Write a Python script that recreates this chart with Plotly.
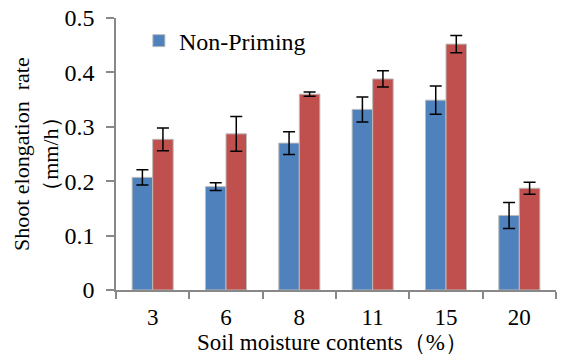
import plotly.graph_objects as go

categories = ["3", "6", "8", "11", "15", "20"]
non_priming = [0.207, 0.190, 0.270, 0.332, 0.349, 0.137]
non_priming_err = [0.014, 0.007, 0.021, 0.023, 0.026, 0.024]
priming = [0.277, 0.287, 0.360, 0.388, 0.452, 0.187]
priming_err = [0.021, 0.032, 0.004, 0.015, 0.016, 0.011]

FONT = "Liberation Serif, Times New Roman, serif"

fig = go.Figure()
fig.add_trace(go.Bar(
    x=categories, y=non_priming, name="Non-Priming",
    marker=dict(color="#4F81BD", line=dict(color="#BBBBBB", width=1)),
    error_y=dict(type="data", array=non_priming_err, color="black", thickness=1.5, width=6),
))
fig.add_trace(go.Bar(
    x=categories, y=priming, name="Priming", showlegend=False,
    marker=dict(color="#C0504D", line=dict(color="#BBBBBB", width=1)),
    error_y=dict(type="data", array=priming_err, color="black", thickness=1.5, width=6),
))

# the page body has an 8px default margin, so the figure is shifted up/left by 8px
fig.update_layout(
    width=565, height=354,
    margin=dict(l=108, r=17, t=10, b=72, autoexpand=False),
    paper_bgcolor="white", plot_bgcolor="white",
    barmode="group", bargap=0.44, bargroupgap=0,
    font=dict(family=FONT, size=22, color="black"),
    legend=dict(x=0.052, y=0.998, xanchor="left", yanchor="top",
                bgcolor="rgba(0,0,0,0)", font=dict(size=24)),
    xaxis=dict(
        type="category", range=[-0.5, 5.5], automargin=False,
        showline=True, linecolor="#888888", linewidth=1.5,
        ticks="outside", tickson="boundaries", ticklen=7, tickcolor="#888888", tickwidth=1.5,
        showgrid=False, tickfont=dict(size=23), ticklabelstandoff=6,
        ticklabeloverflow="allow",
    ),
    yaxis=dict(
        range=[0, 0.5], dtick=0.1, automargin=False,
        showline=True, linecolor="#888888", linewidth=1.5,
        ticks="outside", ticklen=8, tickcolor="#888888", tickwidth=1.5,
        showgrid=False, zeroline=False, tickfont=dict(size=24), ticklabelstandoff=7,
        ticklabeloverflow="allow",
    ),
    annotations=[
        dict(text="Soil moisture contents（%）", xref="paper", yref="paper",
             x=0.492, y=0, yshift=-52, xanchor="center", yanchor="middle",
             showarrow=False, font=dict(size=23)),
        dict(text="Shoot elongation  rate<br>（mm/h）", xref="paper", yref="paper",
             x=0, xshift=-80, y=0.5, xanchor="center", yanchor="middle",
             textangle=-90, showarrow=False, font=dict(size=22)),
    ],
)

fig.write_html("out.html")
